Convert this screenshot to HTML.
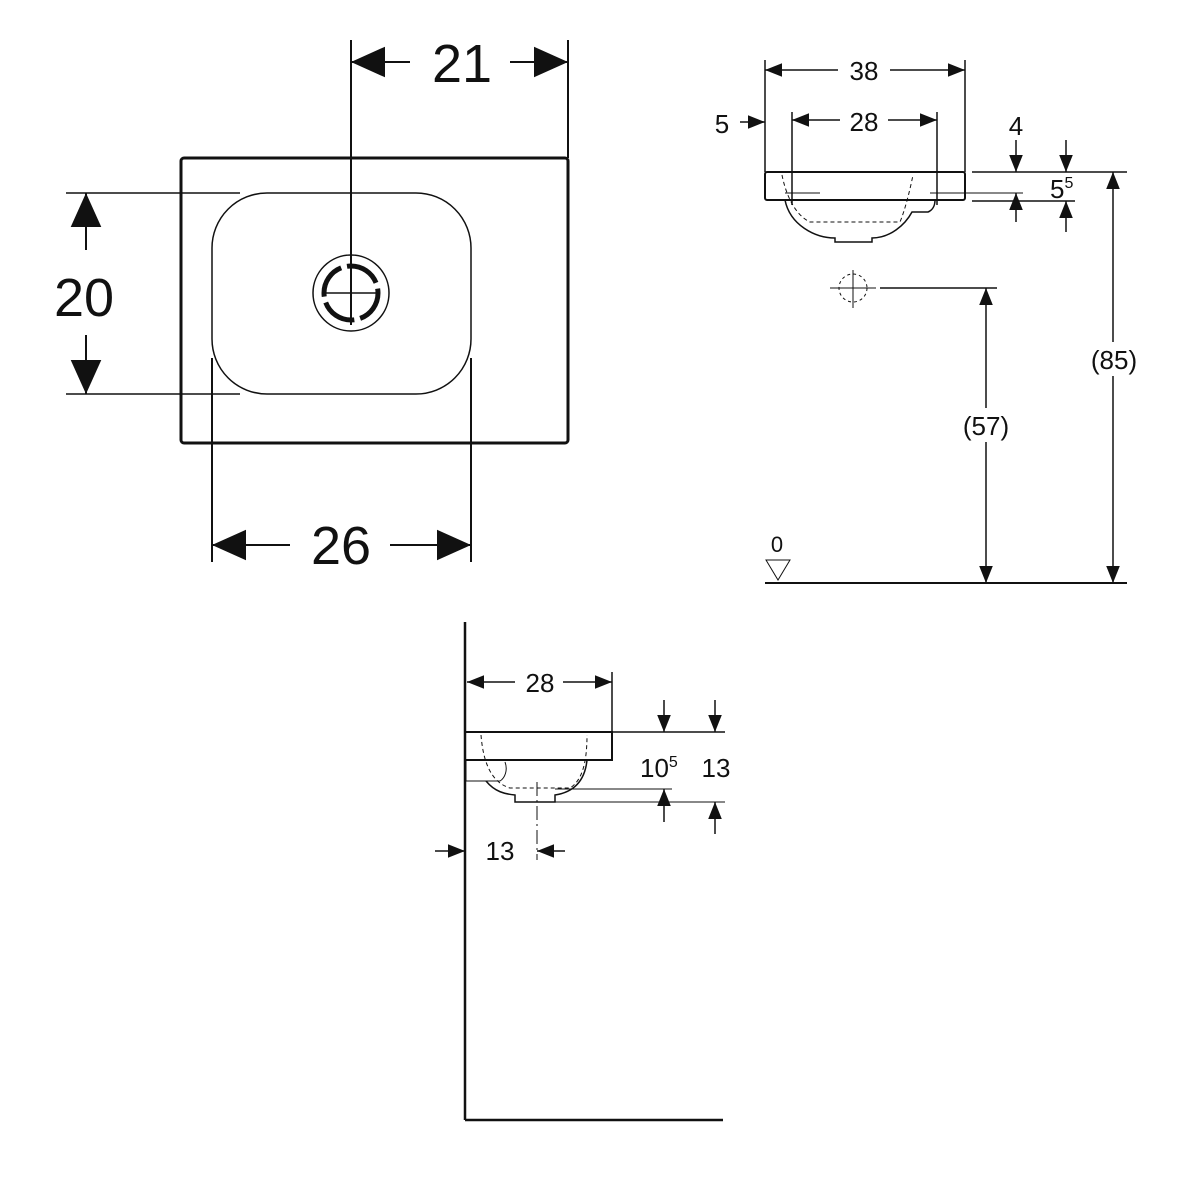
<!DOCTYPE html>
<html><head><meta charset="utf-8"><style>html,body{margin:0;padding:0;background:#fff}svg{display:block}text{font-family:"Liberation Sans",sans-serif;fill:#111}</style></head><body>
<svg width="1200" height="1200" viewBox="0 0 1200 1200" xmlns="http://www.w3.org/2000/svg" stroke="#111" fill="none">
<defs>
<marker id="a" viewBox="0 0 10 10" refX="10" refY="5" markerWidth="10" markerHeight="10" markerUnits="userSpaceOnUse" orient="auto-start-reverse"><path d="M0,0L10,5L0,10z" fill="#111" stroke="none"/></marker>
<marker id="b" viewBox="0 0 10 10" refX="10" refY="5" markerWidth="34" markerHeight="34" markerUnits="userSpaceOnUse" orient="auto-start-reverse"><path d="M0,0.5L10,5L0,9.5z" fill="#111" stroke="none"/></marker>
<marker id="c" viewBox="0 0 10 10" refX="10" refY="5" markerWidth="17" markerHeight="17" markerUnits="userSpaceOnUse" orient="auto-start-reverse"><path d="M0,1L10,5L0,9z" fill="#111" stroke="none"/></marker>
</defs>
<!-- plan view -->
<rect x="181" y="158" width="387" height="285" rx="3" stroke-width="3"/>
<rect x="212" y="193" width="259" height="201" rx="55" stroke-width="1.5"/>
<circle cx="351" cy="293" r="38" stroke-width="1.5"/>
<circle cx="351" cy="293" r="27" stroke-width="5" stroke-dasharray="36 6" stroke-dashoffset="3"/>
<line x1="322" y1="293" x2="380" y2="293" stroke-width="1.5"/>
<line x1="351" y1="40" x2="351" y2="325" stroke-width="2"/>
<line x1="568" y1="40" x2="568" y2="158" stroke-width="2"/>
<line x1="351" y1="62" x2="410" y2="62" stroke-width="2" marker-start="url(#b)"/>
<line x1="510" y1="62" x2="568" y2="62" stroke-width="2" marker-end="url(#b)"/>
<text x="462" y="82" font-size="54" text-anchor="middle" stroke="none">21</text>
<line x1="66" y1="193" x2="240" y2="193" stroke-width="1.5"/>
<line x1="66" y1="394" x2="240" y2="394" stroke-width="1.5"/>
<line x1="86" y1="193" x2="86" y2="250" stroke-width="2" marker-start="url(#b)"/>
<line x1="86" y1="335" x2="86" y2="394" stroke-width="2" marker-end="url(#b)"/>
<text x="84" y="316" font-size="54" text-anchor="middle" stroke="none">20</text>
<line x1="212" y1="358" x2="212" y2="562" stroke-width="2"/>
<line x1="471" y1="358" x2="471" y2="562" stroke-width="2"/>
<line x1="212" y1="545" x2="290" y2="545" stroke-width="2" marker-start="url(#b)"/>
<line x1="390" y1="545" x2="471" y2="545" stroke-width="2" marker-end="url(#b)"/>
<text x="341" y="564" font-size="54" text-anchor="middle" stroke="none">26</text>
<!-- elevation -->
<rect x="765" y="172" width="200" height="28" rx="2" stroke-width="2"/>
<path d="M785,200 C790,225 815,238 835,238 L835,242 L872,242 L872,238 C890,238 905,225 912,212 L928,212 C933,210 935,205 935,200" stroke-width="1.5"/>
<path d="M782,175 C786,195 795,215 810,222 L900,222 C905,210 910,190 913,175" stroke-width="1" stroke-dasharray="4 3"/>
<line x1="785" y1="193" x2="820" y2="193" stroke-width="1"/>
<line x1="930" y1="193" x2="1023" y2="193" stroke-width="1"/>
<line x1="765" y1="60" x2="765" y2="172" stroke-width="1.5"/>
<line x1="965" y1="60" x2="965" y2="172" stroke-width="1.5"/>
<line x1="792" y1="112" x2="792" y2="205" stroke-width="1.5"/>
<line x1="937" y1="112" x2="937" y2="205" stroke-width="1.5"/>
<line x1="765" y1="70" x2="838" y2="70" stroke-width="1.5" marker-start="url(#c)"/>
<line x1="890" y1="70" x2="965" y2="70" stroke-width="1.5" marker-end="url(#c)"/>
<text x="864" y="80" font-size="26" text-anchor="middle" stroke="none">38</text>
<line x1="792" y1="120" x2="840" y2="120" stroke-width="1.5" marker-start="url(#c)"/>
<line x1="888" y1="120" x2="937" y2="120" stroke-width="1.5" marker-end="url(#c)"/>
<text x="864" y="131" font-size="26" text-anchor="middle" stroke="none">28</text>
<text x="722" y="133" font-size="26" text-anchor="middle" stroke="none">5</text>
<line x1="740" y1="122" x2="765" y2="122" stroke-width="1.5" marker-end="url(#c)"/>
<text x="1016" y="135" font-size="26" text-anchor="middle" stroke="none">4</text>
<line x1="972" y1="172" x2="1127" y2="172" stroke-width="1.5"/>
<line x1="972" y1="201" x2="1075" y2="201" stroke-width="1.5"/>
<line x1="1016" y1="140" x2="1016" y2="172" stroke-width="1.5" marker-end="url(#c)"/>
<line x1="1016" y1="222" x2="1016" y2="193" stroke-width="1.5" marker-end="url(#c)"/>
<line x1="1066" y1="140" x2="1066" y2="172" stroke-width="1.5" marker-end="url(#c)"/>
<line x1="1066" y1="232" x2="1066" y2="201" stroke-width="1.5" marker-end="url(#c)"/>
<text x="1050" y="198" font-size="26" stroke="none">5<tspan font-size="16" dy="-10">5</tspan></text>
<circle cx="853" cy="288" r="14" stroke-width="1" stroke-dasharray="3 3"/>
<line x1="830" y1="288" x2="876" y2="288" stroke-width="1"/>
<line x1="853" y1="270" x2="853" y2="308" stroke-width="1"/>
<line x1="880" y1="288" x2="997" y2="288" stroke-width="1.5"/>
<line x1="986" y1="583" x2="986" y2="288" stroke-width="1.5" marker-end="url(#c)" marker-start="url(#c)"/>
<rect x="955" y="408" width="62" height="34" fill="#fff" stroke="none"/>
<text x="986" y="435" font-size="26" text-anchor="middle" stroke="none">(57)</text>
<line x1="1113" y1="583" x2="1113" y2="172" stroke-width="1.5" marker-end="url(#c)" marker-start="url(#c)"/>
<rect x="1082" y="342" width="62" height="34" fill="#fff" stroke="none"/>
<text x="1114" y="369" font-size="26" text-anchor="middle" stroke="none">(85)</text>
<line x1="765" y1="583" x2="1127" y2="583" stroke-width="2"/>
<text x="777" y="552" font-size="22" text-anchor="middle" stroke="none">0</text>
<path d="M766,560 L790,560 L778,580 Z" stroke-width="1"/>
<!-- side view -->
<line x1="465" y1="622" x2="465" y2="1120" stroke-width="2.5"/>
<line x1="465" y1="1120" x2="723" y2="1120" stroke-width="2.5"/>
<rect x="465" y="732" width="147" height="28" stroke-width="2"/>
<path d="M466,760 L466,781 L500,781 C505,778 508,770 505,762" stroke-width="1"/>
<path d="M486,781 C495,792 505,794 515,795 L515,802 L555,802 L555,795 C575,792 585,780 587,760" stroke-width="1.5"/>
<path d="M481,735 C483,760 490,782 510,788 L570,788 C583,780 587,760 587,735" stroke-width="1" stroke-dasharray="4 3"/>
<line x1="612" y1="672" x2="612" y2="732" stroke-width="1.5"/>
<line x1="467" y1="682" x2="515" y2="682" stroke-width="1.5" marker-start="url(#c)"/>
<line x1="563" y1="682" x2="612" y2="682" stroke-width="1.5" marker-end="url(#c)"/>
<text x="540" y="692" font-size="26" text-anchor="middle" stroke="none">28</text>
<line x1="612" y1="732" x2="725" y2="732" stroke-width="1.5"/>
<line x1="664" y1="700" x2="664" y2="732" stroke-width="1.5" marker-end="url(#c)"/>
<line x1="715" y1="700" x2="715" y2="732" stroke-width="1.5" marker-end="url(#c)"/>
<line x1="555" y1="789" x2="672" y2="789" stroke-width="1"/>
<line x1="555" y1="802" x2="725" y2="802" stroke-width="1"/>
<line x1="664" y1="822" x2="664" y2="789" stroke-width="1.5" marker-end="url(#c)"/>
<line x1="715" y1="834" x2="715" y2="802" stroke-width="1.5" marker-end="url(#c)"/>
<text x="640" y="777" font-size="26" stroke="none">10<tspan font-size="16" dy="-10">5</tspan></text>
<text x="716" y="777" font-size="26" text-anchor="middle" stroke="none">13</text>
<line x1="537" y1="782" x2="537" y2="860" stroke-width="1" stroke-dasharray="14 4 2 4"/>
<line x1="435" y1="851" x2="465" y2="851" stroke-width="1.5" marker-end="url(#c)"/>
<line x1="565" y1="851" x2="537" y2="851" stroke-width="1.5" marker-end="url(#c)"/>
<text x="500" y="860" font-size="26" text-anchor="middle" stroke="none">13</text>
</svg>
</body></html>
